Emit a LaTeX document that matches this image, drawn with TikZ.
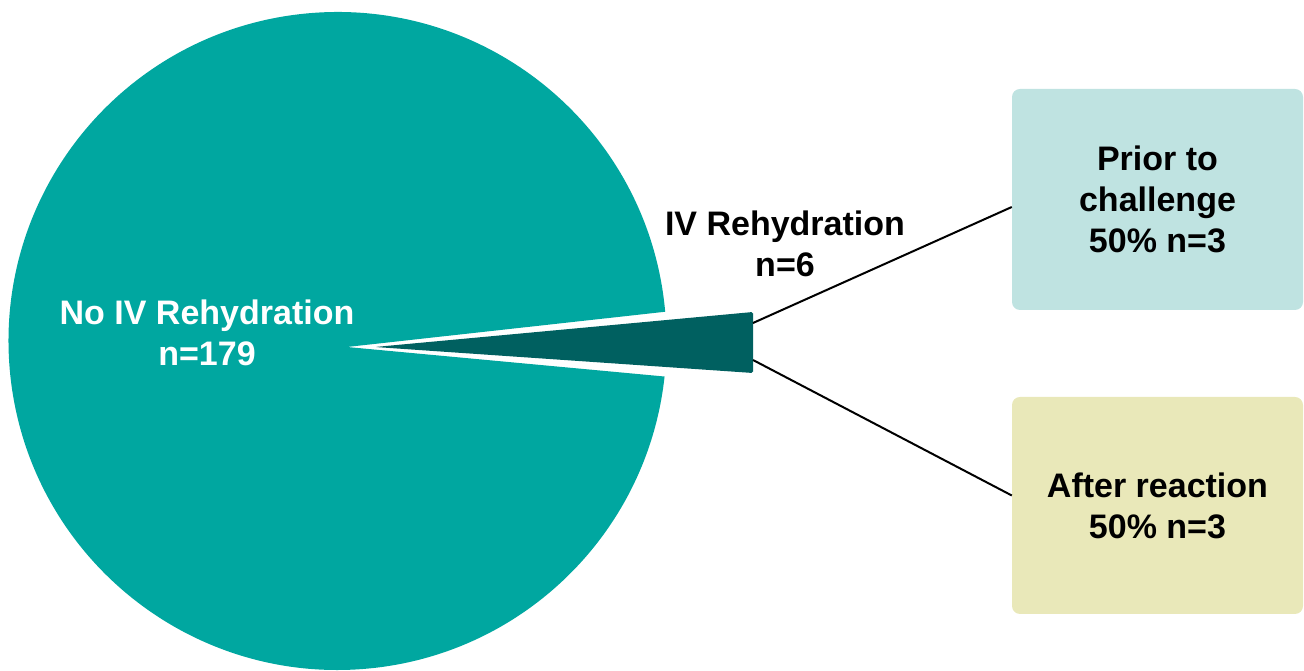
\documentclass[tikz,border=0pt]{standalone}
\usepackage{fontspec}
\setmainfont{Liberation Sans}
\usetikzlibrary{positioning}
\definecolor{pieteal}{HTML}{00A7A0}
\definecolor{slicedark}{HTML}{006060}
\definecolor{priorfill}{HTML}{BFE3E1}
\definecolor{afterfill}{HTML}{E9E8B9}
\tikzset{
  label text/.style = {font=\fontsize{34}{41}\selectfont\bfseries, align=center, inner sep=0pt},
  group box/.style = {label text, rounded corners=8pt, minimum width=291pt},
  link/.style = {line width=2pt}
}

\begin{document}
\begin{tikzpicture}[x=1pt, y=1pt]

  \useasboundingbox (0,0) rectangle (1304,671);

  % Pie, no IV rehydration
  \fill[pieteal] (347,324) -- ([shift={(337.5,330)}]5.1:329)
    arc[start angle=5.1, end angle=353.8, radius=329] -- cycle;

  % Exploded slice, IV rehydration
  \fill[slicedark, rounded corners=1.5pt] (375,324) -- (753,359) -- (753,298) -- cycle;
  \coordinate (slice top) at (753,348);
  \coordinate (slice bottom) at (753,311);

  % Labels
  \node[label text, text=white] (no iv) at (207,338.5) {No IV Rehydration\\n=179};
  \node[label text] (iv) at (785,427) {IV Rehydration\\n=6};

  % Boxes
  \node[group box, fill=priorfill, minimum height=221pt] (prior) at (1157.5,471.5) {Prior to\\challenge\\50\% n=3};
  \node[group box, fill=afterfill, minimum height=217pt] (after) at (1157.5,165.5) {After reaction\\50\% n=3};

  % Connectors
  \draw[link] (slice top) -- ([yshift=-7.5pt]prior.west);
  \draw[link] (slice bottom) -- ([yshift=10pt]after.west);

\end{tikzpicture}
\end{document}
